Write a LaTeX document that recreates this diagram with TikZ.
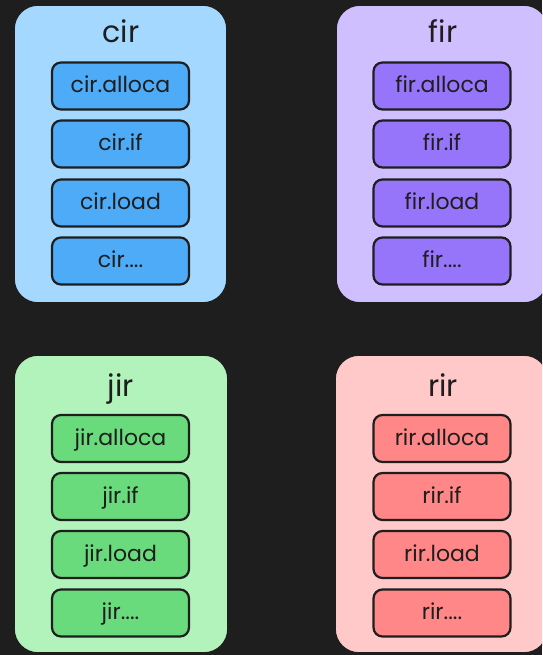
\documentclass[tikz,border=0pt]{standalone}
\usepackage{fontspec}
\setmainfont{Poppins}
\definecolor{bg}{HTML}{1E1E1E}
\definecolor{ink}{HTML}{1E1E1E}
\definecolor{blueL}{HTML}{A5D8FF}
\definecolor{blueD}{HTML}{4DABF7}
\definecolor{purpL}{HTML}{D0BFFF}
\definecolor{purpD}{HTML}{9775FA}
\definecolor{greenL}{HTML}{B2F2BB}
\definecolor{greenD}{HTML}{69DB7C}
\definecolor{redL}{HTML}{FFC9C9}
\definecolor{redD}{HTML}{FF8787}
\tikzset{
  outerbox/.style={draw=ink, line width=1.6pt, rounded corners=24pt},
  innerbox/.style={draw=ink, line width=2.2pt, rounded corners=9pt, minimum width=137pt, minimum height=47pt, inner sep=0pt, font=\fontsize{22}{24}\selectfont, text=ink, text height=16pt, text depth=3pt},
  titlelbl/.style={font=\fontsize{30}{34}\selectfont, text=ink, inner sep=0pt, anchor=base}
}
\begin{document}
\begin{tikzpicture}[x=1pt,y=-1pt]
\useasboundingbox (0,0) rectangle (542,655);
\fill[bg] (0,0) rectangle (542,655);
\clip (0,0) rectangle (542,655);
% cir
\filldraw[outerbox, fill=blueL] (14,5) rectangle (227,303);
\node[titlelbl] (cirT) at (121,43) {cir};
\node[innerbox, fill=blueD] (cir1) at (120.5,86) {cir.alloca};
\node[innerbox, fill=blueD] (cir2) at (120.5,144) {cir.if};
\node[innerbox, fill=blueD] (cir3) at (120.5,203) {cir.load};
\node[innerbox, fill=blueD] (cir4) at (120.5,261) {cir....};
% fir
\filldraw[outerbox, fill=purpL] (336,5) rectangle (548,303);
\node[titlelbl] (firT) at (443,43) {fir};
\node[innerbox, fill=purpD] (fir1) at (442,86) {fir.alloca};
\node[innerbox, fill=purpD] (fir2) at (442,144) {fir.if};
\node[innerbox, fill=purpD] (fir3) at (442,203) {fir.load};
\node[innerbox, fill=purpD] (fir4) at (442,261) {fir....};
% jir
\filldraw[outerbox, fill=greenL] (14,355) rectangle (228,653);
\node[titlelbl] (jirT) at (121,396) {jir};
\node[innerbox, fill=greenD] (jir1) at (120.5,438.5) {jir.alloca};
\node[innerbox, fill=greenD] (jir2) at (120.5,496.5) {jir.if};
\node[innerbox, fill=greenD] (jir3) at (120.5,554.5) {jir.load};
\node[innerbox, fill=greenD] (jir4) at (120.5,613) {jir....};
% rir
\filldraw[outerbox, fill=redL] (335,355) rectangle (548,653);
\node[titlelbl] (rirT) at (443,396) {rir};
\node[innerbox, fill=redD] (rir1) at (442,438.5) {rir.alloca};
\node[innerbox, fill=redD] (rir2) at (442,496.5) {rir.if};
\node[innerbox, fill=redD] (rir3) at (442,554.5) {rir.load};
\node[innerbox, fill=redD] (rir4) at (442,613) {rir....};
\end{tikzpicture}
\end{document}
